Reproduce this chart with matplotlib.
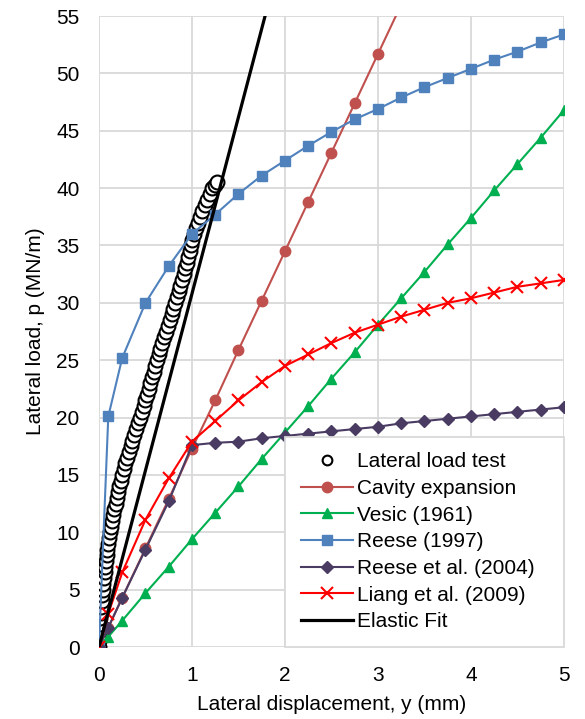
import numpy as np
import matplotlib.pyplot as plt

plt.rcParams['font.family'] = ['Liberation Sans', 'DejaVu Sans']

# lateral load test
test_p = [0, 0.5, 1, 1.5, 2, 2.5, 3, 3.5, 4, 4.5, 5, 5.5, 6, 6.5, 7, 7.5, 8, 8.5, 9, 9.5,
          10, 10.5, 11, 11.5, 12, 12.5, 13, 13.5, 14, 14.5, 15, 15.5, 16, 16.5, 17, 17.5,
          18, 18.5, 19, 19.5, 20, 20.5, 21, 21.5, 22, 22.5, 23, 23.5, 24, 24.5, 25, 25.5,
          26, 26.5, 27, 27.5, 28, 28.5, 29, 29.5, 30, 30.5, 31, 31.5, 32, 32.5, 33, 33.5,
          34, 34.5, 35, 35.5, 36, 36.5, 37, 37.5, 38, 38.5, 39, 39.5, 40, 40.3, 40.5]
test_y = [0, 0.0, 0.005, 0.01, 0.01, 0.015, 0.02, 0.025, 0.03, 0.035, 0.04, 0.045, 0.055,
          0.06, 0.07, 0.08, 0.085, 0.09, 0.1, 0.11, 0.12, 0.13, 0.14, 0.15, 0.165, 0.18,
          0.19, 0.205, 0.22, 0.235, 0.25, 0.265, 0.28, 0.30, 0.32, 0.34, 0.36, 0.38, 0.40,
          0.42, 0.44, 0.46, 0.48, 0.50, 0.52, 0.535, 0.55, 0.57, 0.59, 0.605, 0.62, 0.64,
          0.66, 0.68, 0.70, 0.72, 0.74, 0.76, 0.78, 0.80, 0.82, 0.84, 0.86, 0.875, 0.89,
          0.91, 0.93, 0.945, 0.96, 0.975, 0.99, 1.005, 1.02, 1.04, 1.06, 1.085, 1.11, 1.135,
          1.16, 1.19, 1.22, 1.25, 1.27]

disp = [0, 0.1, 0.25, 0.5, 0.75, 1.0, 1.25, 1.5, 1.75, 2.0, 2.25, 2.5, 2.75, 3.0,
        3.25, 3.5, 3.75, 4.0, 4.25, 4.5, 4.75, 5.0]

cavity_x = [0, 0.1, 0.25, 0.5, 0.75, 1.0, 1.25, 1.5, 1.75, 2.0, 2.25, 2.5, 2.75, 3.0, 3.25]
cavity_p = [0, 1.7, 4.3, 8.6, 12.9, 17.3, 21.5, 25.9, 30.2, 34.5, 38.8, 43.1, 47.4, 51.7, 56.0]

vesic_p = [0, 0.9, 2.3, 4.7, 7.0, 9.4, 11.7, 14.0, 16.4, 18.7, 21.0, 23.4, 25.7, 28.1,
           30.4, 32.7, 35.1, 37.4, 39.8, 42.1, 44.4, 46.8]
reese97_p = [0, 20.1, 25.2, 30.0, 33.2, 36.0, 37.7, 39.5, 41.1, 42.4, 43.7, 44.9, 46.0, 46.9,
             47.9, 48.8, 49.6, 50.4, 51.2, 51.9, 52.7, 53.4]
reese04_p = [0, 1.7, 4.3, 8.5, 12.7, 17.6, 17.8, 17.9, 18.2, 18.4, 18.6, 18.8, 19.0, 19.2,
             19.5, 19.7, 19.9, 20.1, 20.3, 20.5, 20.7, 20.9]
liang_p = [0, 2.9, 6.5, 11.1, 14.7, 17.9, 19.7, 21.5, 23.1, 24.5, 25.5, 26.5, 27.4, 28.1,
           28.8, 29.4, 30.0, 30.4, 30.9, 31.4, 31.7, 32.0]

elastic_x = [0, 2.0]
elastic_p = [0, 61.6]

fig = plt.figure(figsize=(5.85, 7.19), dpi=100)
ax = fig.add_axes([0.1692, 0.1001, 0.7949, 0.8776])

ax.plot(test_y, test_p, 'o', ms=10, mfc='white', mec='black', mew=1.5,
        label='Lateral load test', zorder=2)
ax.plot(cavity_x, cavity_p, '-o', color='#C0504D', lw=1.5, ms=7.5,
        label='Cavity expansion', zorder=3)
ax.plot(disp, vesic_p, '-^', color='#00B050', lw=1.5, ms=7.5,
        label='Vesic (1961)', zorder=3)
ax.plot(disp, reese97_p, '-s', color='#4F81BD', lw=1.5, ms=7,
        label='Reese (1997)', zorder=3)
ax.plot(disp, reese04_p, '-D', color='#4A3B63', lw=1.5, ms=6.5,
        label='Reese et al. (2004)', zorder=3)
ax.plot(disp, liang_p, '-x', color='#FF0000', lw=1.5, ms=9, mew=1.5,
        label='Liang et al. (2009)', zorder=3)
ax.plot(elastic_x, elastic_p, '-', color='black', lw=2.3,
        label='Elastic Fit', zorder=4)

ax.set_xlim(0, 5)
ax.set_ylim(0, 55)
ax.set_xticks(range(0, 6))
ax.set_yticks(range(0, 56, 5))
ax.grid(True, color='#D9D9D9', lw=1.3)
ax.set_axisbelow(True)
for s in ax.spines.values():
    s.set_visible(False)
ax.tick_params(length=0, labelsize=15, colors='black')
ax.tick_params(axis='y', pad=14)
ax.tick_params(axis='x', pad=14)

ax.set_xlabel('Lateral displacement, y (mm)', fontsize=15, labelpad=7)
ax.set_ylabel('Lateral load, p (MN/m)', fontsize=15, labelpad=8)

handles, labels = ax.get_legend_handles_labels()
handles[0] = plt.Line2D([], [], ls='none', marker='o', ms=7, mfc='white',
                        mec='black', mew=1.5)
leg = ax.legend(handles, labels, loc='lower left', bbox_to_anchor=(0.4, 0, 0.6, 1),
                mode='expand', borderaxespad=0,
                fontsize=15, frameon=True, fancybox=False, edgecolor='#D9D9D9',
                framealpha=1, handlelength=2.5, handletextpad=0.2,
                labelspacing=0.37, borderpad=0.75)
leg.get_frame().set_linewidth(1.3)

fig.savefig('out.png', dpi=100)
